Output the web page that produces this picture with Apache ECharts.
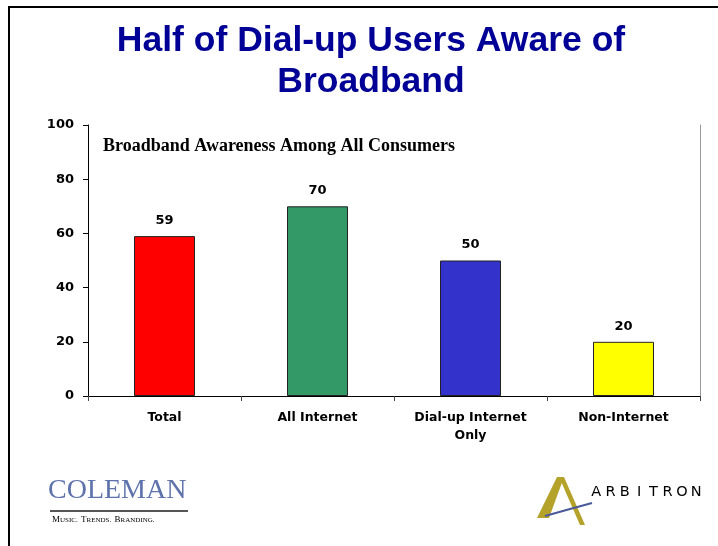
<!DOCTYPE html>
<html>
<head>
<meta charset="utf-8">
<title>Broadband Awareness</title>
<script src="https://cdn.jsdelivr.net/npm/echarts@6/dist/echarts.min.js"></script>
<style>
  html, body { margin: 0; padding: 0; background: #fff; }
  #main { width: 718px; height: 546px; }
</style>
</head>
<body>
<div id="main"></div>
<script>
// chart data
const categories = ['Total', 'All Internet', 'Dial-up Internet\nOnly', 'Non-Internet'];
const awareness = [59, 70, 50, 20];
const barColors = ['#ff0000', '#339966', '#3333cc', '#ffff00'];
const yMin = 0, yMax = 100, yStep = 20;
const brandLetters = 'ARBITRON';

const myChart = echarts.init(document.getElementById('main'));

const axisFont = 'DejaVu Sans';

const option = {
  backgroundColor: '#ffffff',
  animation: false,
  title: [
    {
      text: 'Half of Dial-up Users Aware of\nBroadband',
      left: 371,
      top: 21,
      padding: 0,
      textAlign: 'center',
      textStyle: {
        fontFamily: 'Liberation Sans',
        fontWeight: 'bold',
        fontSize: 35.5,
        lineHeight: 41,
        color: '#000096'
      }
    },
    {
      text: 'Broadband Awareness Among All Consumers',
      left: 103,
      top: 137,
      padding: 0,
      textStyle: {
        fontFamily: 'Liberation Serif',
        fontWeight: 'bold',
        fontSize: 18,
        color: '#000'
      }
    }
  ],
  grid: { left: 88, right: 18, top: 125, bottom: 150 },
  xAxis: [
    {
      type: 'category',
      data: categories,
      axisLine: { lineStyle: { color: '#222', width: 1 } },
      axisTick: { show: true, length: 5, lineStyle: { color: '#444' } },
      axisLabel: {
        interval: 0,
        margin: 13,
        fontFamily: axisFont,
        fontWeight: 'bold',
        fontSize: 12.5,
        lineHeight: 18,
        color: '#000'
      }
    },
    {
      // top edge of the plot frame
      type: 'category',
      position: 'top',
      data: categories,
      axisLine: { lineStyle: { color: '#000', width: 1 } },
      axisTick: { show: false },
      axisLabel: { show: false }
    }
  ],
  yAxis: [
    {
      type: 'value',
      min: yMin,
      max: yMax,
      interval: yStep,
      axisLine: { show: true, lineStyle: { color: '#000' } },
      axisTick: { show: true, length: 5, lineStyle: { color: '#000' } },
      splitLine: { show: false },
      axisLabel: {
        margin: 14,
        fontFamily: axisFont,
        fontWeight: 'bold',
        fontSize: 13,
        color: '#000'
      }
    },
    {
      // right edge of the plot frame
      type: 'value',
      position: 'right',
      min: yMin,
      max: yMax,
      interval: yStep,
      axisLine: { show: true, lineStyle: { color: '#999' } },
      axisTick: { show: false },
      axisLabel: { show: false },
      splitLine: { show: false }
    }
  ],
  series: [
    {
      type: 'bar',
      barWidth: 61,
      data: awareness.map((v, i) => ({
        value: v,
        itemStyle: { color: barColors[i], borderColor: '#222', borderWidth: 1 }
      })),
      label: {
        show: true,
        position: 'top',
        distance: 9,
        fontFamily: axisFont,
        fontWeight: 'bold',
        fontSize: 13,
        color: '#000'
      }
    }
  ],
  graphic: [
    // page frame
    { type: 'line', shape: { x1: 8, y1: 7, x2: 718, y2: 7 }, style: { stroke: '#000', lineWidth: 2 } },
    { type: 'line', shape: { x1: 9, y1: 7, x2: 9, y2: 546 }, style: { stroke: '#000', lineWidth: 2 } },
    // Coleman logo
    {
      type: 'text', x: 48, y: 505,
      style: {
        text: 'COLEMAN',
        font: '28px "Liberation Serif"',
        fill: '#5e72ac',
        verticalAlign: 'bottom'
      }
    },
    { type: 'rect', shape: { x: 50, y: 510, width: 138, height: 2 }, style: { fill: '#555' } },
    {
      type: 'text', x: 52, y: 520,
      style: {
        text: '{a|M}{b|USIC.} {a|T}{b|RENDS.} {a|B}{b|RANDING.}',
        verticalAlign: 'middle',
        rich: {
          a: { fontFamily: 'Liberation Serif', fontSize: 9, color: '#444' },
          b: { fontFamily: 'Liberation Serif', fontSize: 7, color: '#444' }
        }
      }
    },
    // Arbitron logo
    {
      type: 'polygon',
      shape: { points: [[537, 518], [557, 477], [564, 477], [549, 518]] },
      style: { fill: '#b5a22a' }
    },
    {
      type: 'polygon',
      shape: { points: [[560, 479], [564, 477], [585, 525], [580, 525]] },
      style: { fill: '#b5a22a' }
    },
    {
      type: 'polyline',
      shape: { points: [[545, 516], [570, 509], [592, 503]] },
      style: { stroke: '#4a5a9a', lineWidth: 2 }
    },
    {
      type: 'text', x: 589, y: 492,
      style: {
        text: brandLetters.split('').map(c => '{l|' + c + '}').join(''),
        verticalAlign: 'middle',
        rich: {
          l: { width: 14.3, align: 'center', fontFamily: 'DejaVu Sans', fontSize: 14.5, color: '#3c4e8c' }
        }
      }
    }
  ]
};

option && myChart.setOption(option);
</script>
</body>
</html>
